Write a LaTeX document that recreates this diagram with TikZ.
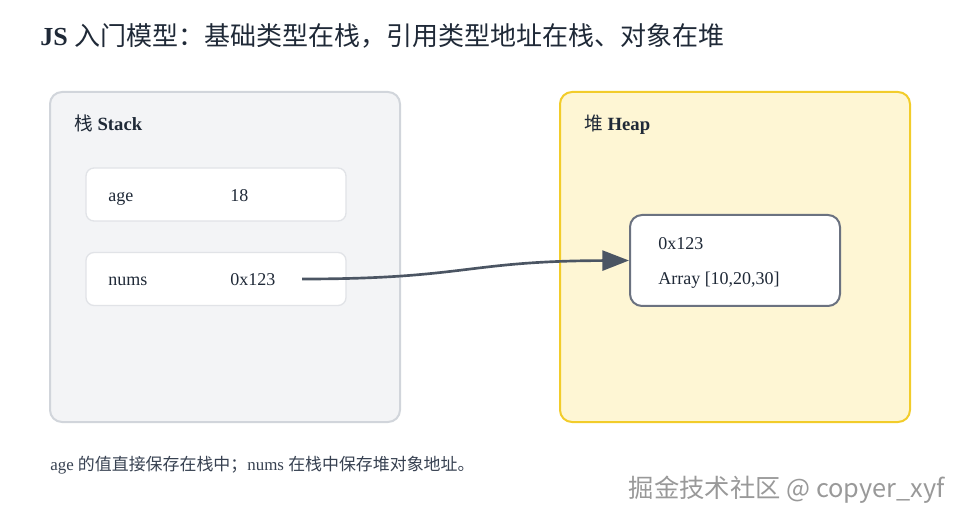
\documentclass[tikz,border=0pt]{standalone}
\usepackage{fontspec}
\usepackage{xcolor}
\usetikzlibrary{arrows.meta,positioning}
\setmainfont{Liberation Serif}
\newfontfamily\cjk{Noto Sans CJK SC}
\definecolor{StackFill}{HTML}{F3F4F6}
\definecolor{StackLine}{HTML}{D1D5DB}
\definecolor{HeapFill}{HTML}{FEF6D4}
\definecolor{HeapLine}{HTML}{F2CC2A}
\definecolor{CellLine}{HTML}{E1E3E7}
\definecolor{ObjLine}{HTML}{6B7280}
\definecolor{LinkInk}{HTML}{4B5563}
\definecolor{TextInk}{HTML}{1F2937}
\definecolor{NoteInk}{HTML}{374151}
\begin{document}
\begin{tikzpicture}[x=0.75pt,y=-0.75pt,every node/.style={text=TextInk,inner sep=0pt},
  region/.style={draw,line width=1.5pt,rounded corners=9pt,minimum width=262.5pt,minimum height=247.5pt},
  cell/.style={draw=CellLine,fill=white,line width=1pt,rounded corners=6pt,minimum width=195pt,minimum height=39.75pt},
  txt/.style={anchor=base west,font=\fontsize{13.5}{15}\selectfont},
  head/.style={anchor=base west,font=\fontsize{14}{16}\selectfont\bfseries},
  link/.style={-{Triangle[length=20pt,width=15pt]},line width=2pt,draw=LinkInk}]
\useasboundingbox (0,0) rectangle (960,520);

\node[anchor=base west,font=\fontsize{19.5}{22}\selectfont] (title) at (40,46) {\textbf{JS} {\cjk 入门模型：基础类型在栈，引用类型地址在栈、对象在堆}};
\node[region,draw=StackLine,fill=StackFill] (stack) at (225,257) {}; \node[region,draw=HeapLine,fill=HeapFill] (heap) at (735,257) {};
\node[head] (stacklbl) at (74,131) {{\cjk\mdseries 栈} Stack}; \node[head] (heaplbl) at (584,131) {{\cjk\mdseries 堆} Heap};
\node[cell] (agebox) at (216,194.5) {}; \node[cell] (numsbox) at (216,279) {};
\node[txt] (agekey) at (108,202) {age}; \node[txt] (ageval) at (230,202) {18};
\node[txt] (numskey) at (108,286) {nums}; \node[txt] (numsval) at (230,286) {0x123};
\node[draw=ObjLine,fill=white,line width=1.5pt,rounded corners=9pt,minimum width=157.5pt,minimum height=68.25pt] (obj) at (735,260.5) {};
\node[txt] (objaddr) at (658,250) {0x123}; \node[txt] (objdata) at (658,285) {Array [10,20,30]};
\coordinate (ptr) at (302,279);
\draw[link] (ptr) .. controls (466,279) and (466,261) .. (obj.west);
\node[anchor=base west,text=NoteInk,font=\fontsize{12.7}{14}\selectfont] (note) at (50,470) {age {\cjk 的值直接保存在栈中；}nums {\cjk 在栈中保存堆对象地址。}};
\node[anchor=base east,text=gray!80,font=\cjk\fontsize{19}{22}\selectfont] (mark) at (945,497) {掘金技术社区 @ copyer\_xyf};

\end{tikzpicture}
\end{document}
